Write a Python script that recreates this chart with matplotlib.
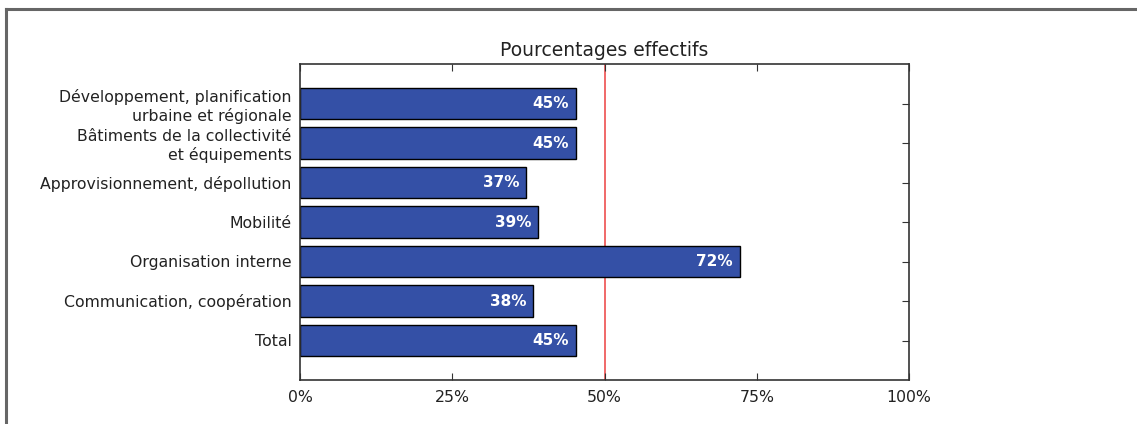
import matplotlib
matplotlib.use("Agg")
import matplotlib.pyplot as plt
from matplotlib.lines import Line2D
from matplotlib.ticker import FuncFormatter

categories = [
    "Développement, planification\nurbaine et régionale",
    "Bâtiments de la collectivité\net équipements",
    "Approvisionnement, dépollution",
    "Mobilité",
    "Organisation interne",
    "Communication, coopération",
    "Total",
]
values = [45.3, 45.3, 37.1, 39.1, 72.2, 38.3, 45.3]
value_labels = ["45%", "45%", "37%", "39%", "72%", "38%", "45%"]
xticks = [0, 25, 50, 75, 100]
target = 50
title = "Pourcentages effectifs"

W, H = 1137, 424
fig = plt.figure(figsize=(W / 100, H / 100), dpi=100)
fig.patch.set_facecolor("white")

# outer frame (top and left edges visible)
fig.add_artist(Line2D([6 / W, 1.0], [1 - 9 / H, 1 - 9 / H], transform=fig.transFigure,
                      color="#666666", lw=2.2))
fig.add_artist(Line2D([6 / W, 6 / W], [0.0, 1 - 9 / H], transform=fig.transFigure,
                      color="#666666", lw=2.2))

ax = fig.add_axes([300 / W, 1 - 380 / H, (909 - 300) / W, (380 - 64) / H])
pos = list(range(len(categories)))
ax.barh(pos, values, height=0.8, color="#3450a6", edgecolor="black", linewidth=1.0, zorder=2)
for p, v, lab in zip(pos, values, value_labels):
    ax.text(v - 1.1, p, lab, ha="right", va="center", color="white",
            fontsize=11, fontweight="bold", zorder=3)

ax.axvline(target, color="#f06868", lw=1.4, zorder=1)

ax.set_xlim(0, 100)
ax.set_ylim(7, -1)
ax.set_xticks(xticks)
ax.xaxis.set_major_formatter(FuncFormatter(lambda x, _: f"{x:.0f}%"))
ax.set_yticks(pos)
ax.set_yticklabels(categories, fontsize=11.3, color="#222222", linespacing=1.25)
ax.tick_params(axis="x", labelsize=11.3, labelcolor="#222222", pad=7)
ax.tick_params(direction="in", length=5, width=0.8, top=True, right=True, color="#333333")
ax.tick_params(axis="y", pad=6)
for s in ax.spines.values():
    s.set_linewidth(1.2)
    s.set_color("#333333")
ax.set_title(title, fontsize=13.5, color="#222222", pad=6)

fig.savefig("out.png", dpi=100, facecolor="white")
